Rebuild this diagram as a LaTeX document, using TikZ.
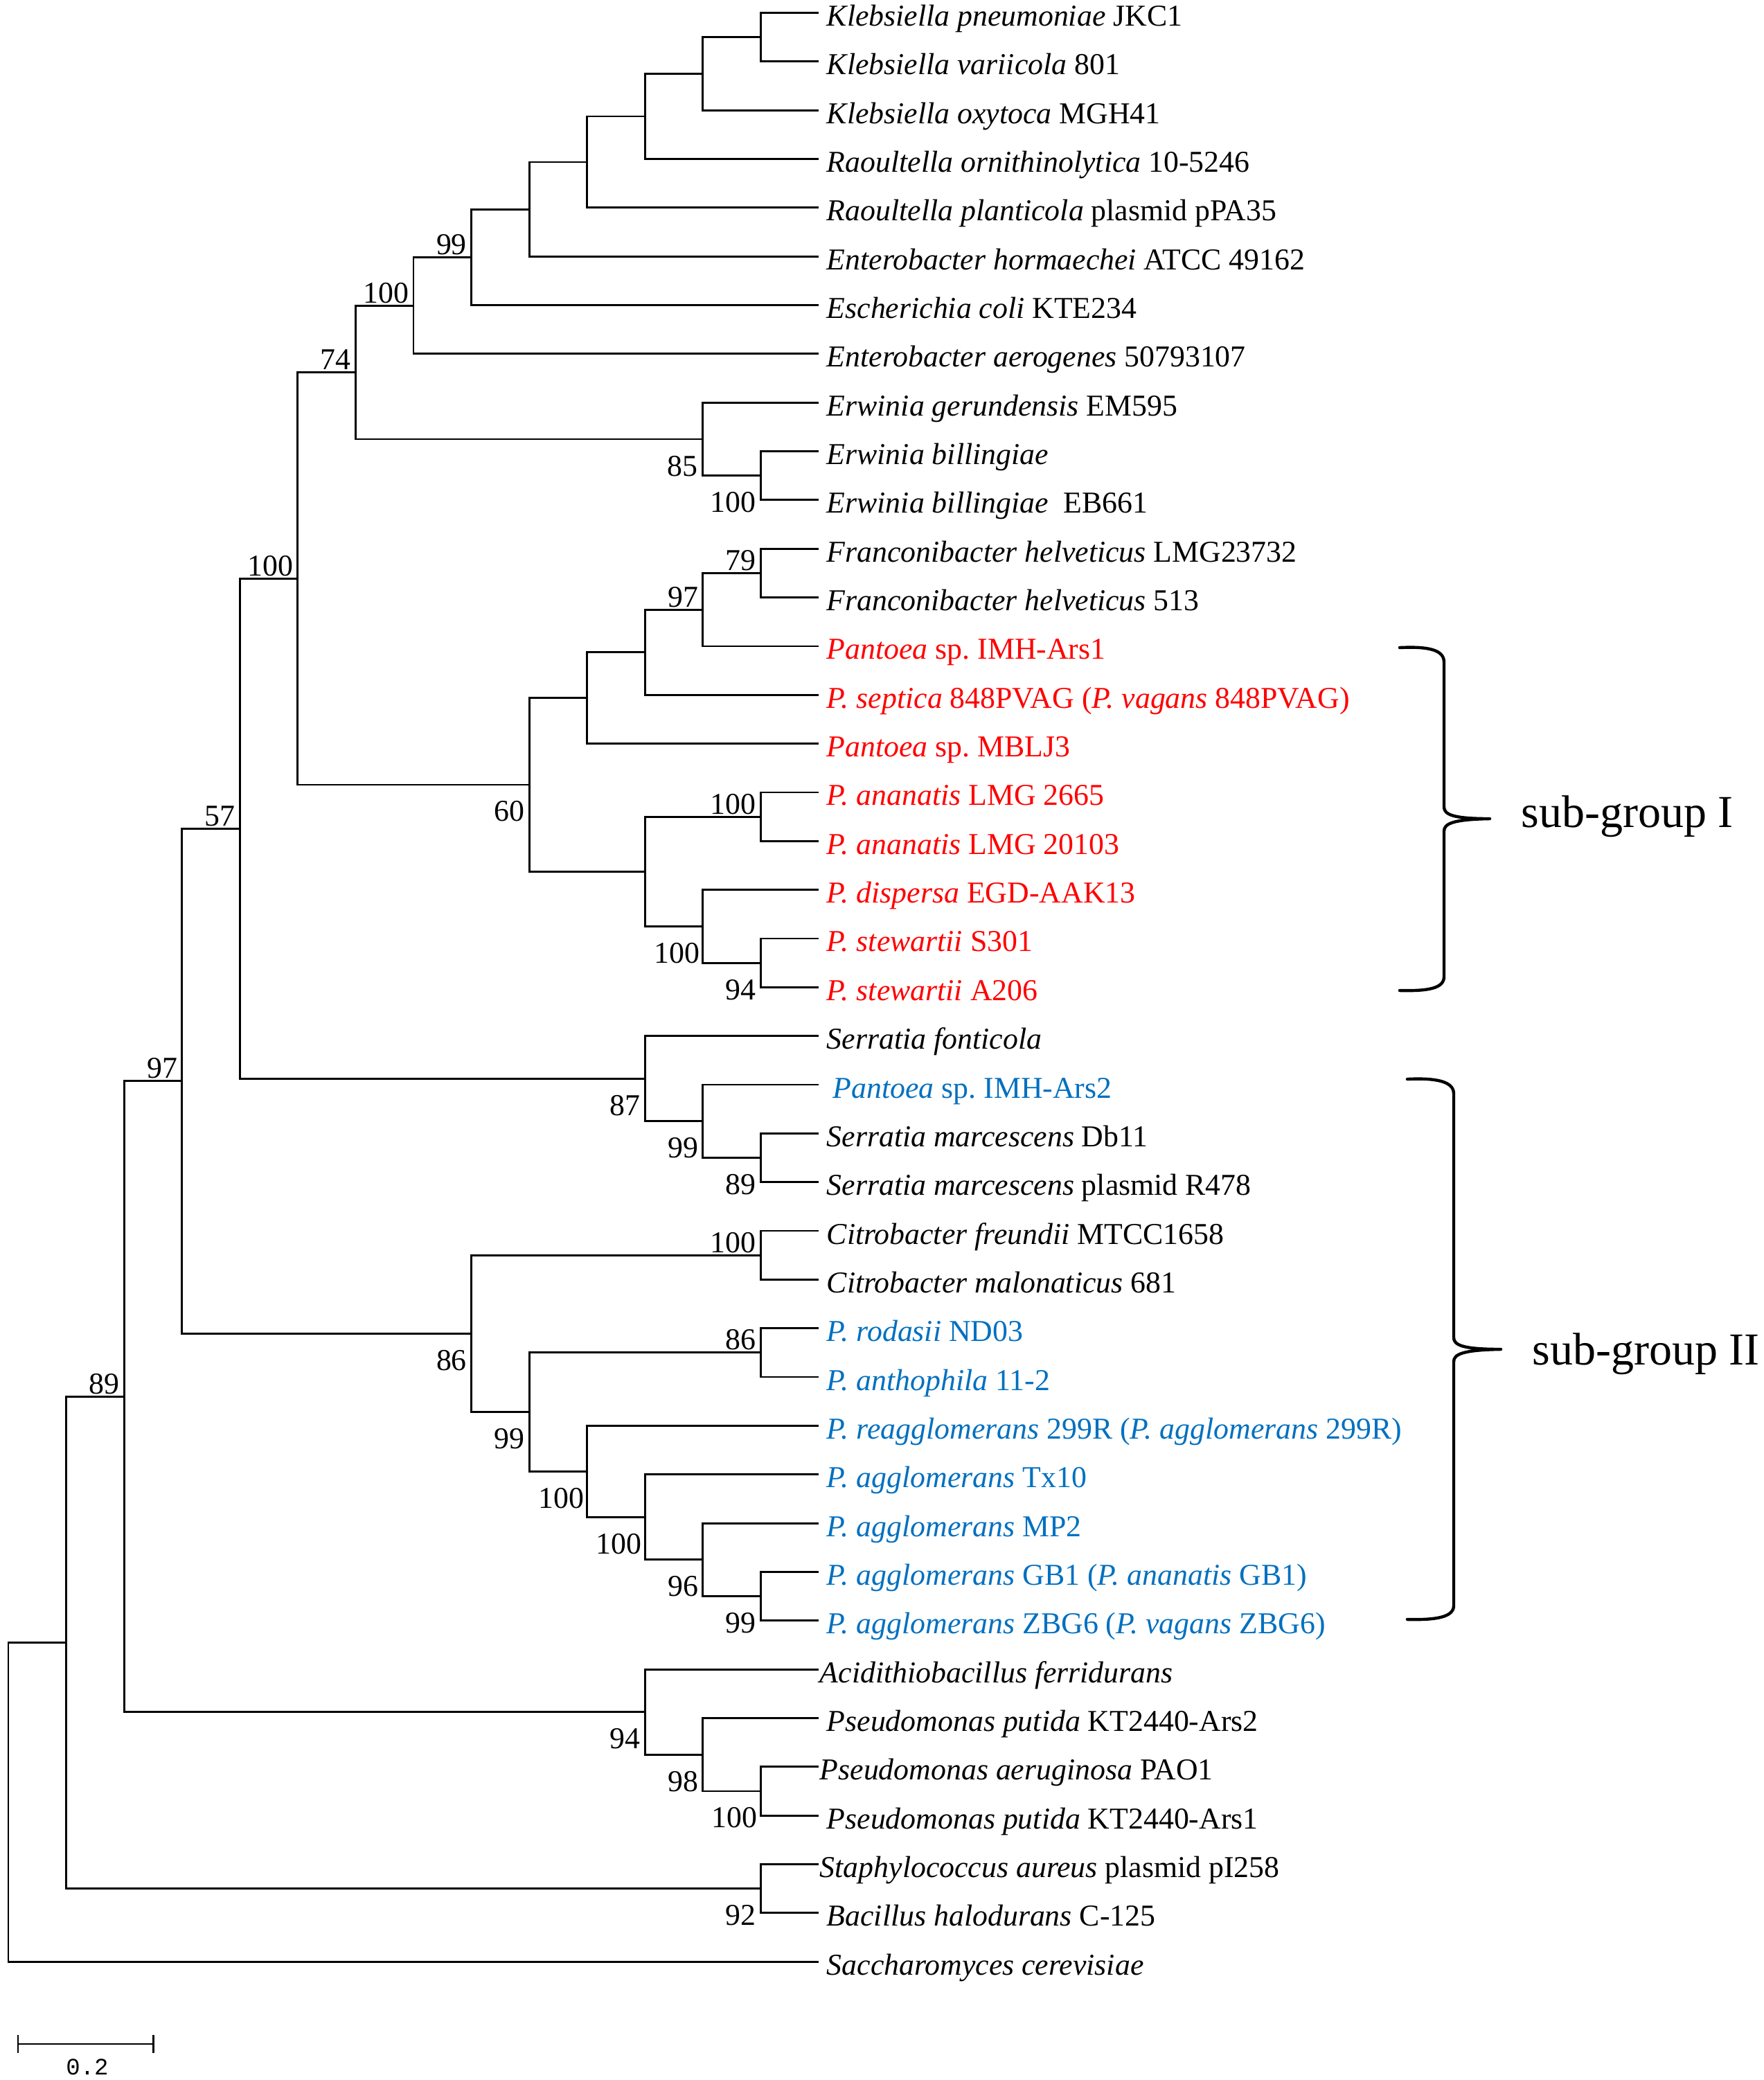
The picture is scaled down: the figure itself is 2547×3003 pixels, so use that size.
\documentclass[tikz,border=0pt]{standalone}
\usepackage{fontspec}
\setmainfont{Liberation Serif}
\newfontfamily\sbarfont{Liberation Mono}
\usetikzlibrary{calc}
\definecolor{pred}{RGB}{255,0,0}
\definecolor{pblue}{RGB}{0,112,192}
\newcommand\lfnt{\fontsize{10.95}{13}\selectfont}
\newcommand\sgfnt{\fontsize{16.5}{20}\selectfont}
\frenchspacing
\begin{document}
\begin{tikzpicture}[x=0.25pt,y=-0.25pt,
  br/.style={line width=0.72pt, line join=miter},
  leaf/.style={anchor=base west, inner sep=0pt, font=\lfnt},
  bs/.style={anchor=base east, inner sep=0pt, font=\lfnt},
  sglabel/.style={anchor=base west, inner sep=0pt, font=\sgfnt},
  bracestroke/.style={line width=1.1pt, line join=round, line cap=round}]
\useasboundingbox (0,0) rectangle (2547,3003);
\fill[white] (0,0) rectangle (2547,3003);
% leaf ends
\foreach \i in {0,...,40} \coordinate (l\i) at (1182,{18.5+70.34*\i});
% internal nodes
\coordinate (a1) at (1098.4,53.67);
\coordinate (a2) at (1014.8,106.43);
\coordinate (a3) at (931.3,167.97);
\coordinate (a4) at (847.7,233.92);
\coordinate (a5) at (764.1,302.06);
\coordinate (a6) at (680.6,371.3);
\coordinate (a7) at (597,441.09);
\coordinate (e2) at (1098.4,686.73);
\coordinate (e1) at (1014.8,633.98);
\coordinate (a8) at (513.4,537.53);
\coordinate (f1) at (1098.4,827.41);
\coordinate (f2) at (1014.8,880.17);
\coordinate (f3) at (931.3,941.71);
\coordinate (f4) at (847.7,1007.66);
\coordinate (g1) at (1098.4,1179.11);
\coordinate (g2) at (1098.4,1390.13);
\coordinate (g3) at (1014.8,1337.37);
\coordinate (g4) at (931.3,1258.24);
\coordinate (f5) at (764.1,1132.95);
\coordinate (b1) at (429.9,835.24);
\coordinate (s1) at (1098.4,1671.49);
\coordinate (s2) at (1014.8,1618.74);
\coordinate (s3) at (931.3,1557.19);
\coordinate (b2) at (346.3,1196.22);
\coordinate (c1) at (1098.4,1812.17);
\coordinate (p1) at (1098.4,1952.85);
\coordinate (p2) at (1098.4,2304.55);
\coordinate (p3) at (1014.8,2251.8);
\coordinate (p4) at (931.3,2190.25);
\coordinate (p5) at (847.7,2124.31);
\coordinate (p6) at (764.1,2038.58);
\coordinate (c2) at (680.6,1925.38);
\coordinate (b3) at (262.7,1560.8);
\coordinate (q1) at (1098.4,2585.91);
\coordinate (q2) at (1014.8,2533.16);
\coordinate (q3) at (931.3,2471.61);
\coordinate (b4) at (179.1,2016.2);
\coordinate (r1) at (1098.4,2726.59);
\coordinate (b5) at (95.6,2371.4);
\coordinate (root) at (12,2601.75);
% branches
\draw[br] (l0) -| (a1) |- (l1);
\draw[br] (a1) -| (a2) |- (l2);
\draw[br] (a2) -| (a3) |- (l3);
\draw[br] (a3) -| (a4) |- (l4);
\draw[br] (a4) -| (a5) |- (l5);
\draw[br] (a5) -| (a6) |- (l6);
\draw[br] (a6) -| (a7) |- (l7);
\draw[br] (l9) -| (e2) |- (l10);
\draw[br] (l8) -| (e1) |- (e2);
\draw[br] (a7) -| (a8) |- (e1);
\draw[br] (l11) -| (f1) |- (l12);
\draw[br] (f1) -| (f2) |- (l13);
\draw[br] (f2) -| (f3) |- (l14);
\draw[br] (f3) -| (f4) |- (l15);
\draw[br] (l16) -| (g1) |- (l17);
\draw[br] (l19) -| (g2) |- (l20);
\draw[br] (l18) -| (g3) |- (g2);
\draw[br] (g1) -| (g4) |- (g3);
\draw[br] (f4) -| (f5) |- (g4);
\draw[br] (a8) -| (b1) |- (f5);
\draw[br] (l23) -| (s1) |- (l24);
\draw[br] (l22) -| (s2) |- (s1);
\draw[br] (l21) -| (s3) |- (s2);
\draw[br] (b1) -| (b2) |- (s3);
\draw[br] (l25) -| (c1) |- (l26);
\draw[br] (l27) -| (p1) |- (l28);
\draw[br] (l32) -| (p2) |- (l33);
\draw[br] (l31) -| (p3) |- (p2);
\draw[br] (l30) -| (p4) |- (p3);
\draw[br] (l29) -| (p5) |- (p4);
\draw[br] (p1) -| (p6) |- (p5);
\draw[br] (c1) -| (c2) |- (p6);
\draw[br] (b2) -| (b3) |- (c2);
\draw[br] (l36) -| (q1) |- (l37);
\draw[br] (l35) -| (q2) |- (q1);
\draw[br] (l34) -| (q3) |- (q2);
\draw[br] (b3) -| (b4) |- (q3);
\draw[br] (l38) -| (r1) |- (l39);
\draw[br] (b4) -| (b5) |- (r1);
\draw[br] (b5) -| (root) |- (l40);
% bootstrap values (above)
\node[bs] (ba6) at ($(a6)+(-6,-4)$) {99};
\node[bs] (ba7) at ($(a7)+(-6,-4)$) {100};
\node[bs] (ba8) at ($(a8)+(-6,-4)$) {74};
\node[bs] (bb1) at ($(b1)+(-6,-4)$) {100};
\node[bs] (bf1) at ($(f1)+(-6,-4)$) {79};
\node[bs] (bf2) at ($(f2)+(-6,-4)$) {97};
\node[bs] (bb2) at ($(b2)+(-6,-4)$) {57};
\node[bs] (bg1) at ($(g1)+(-6,-4)$) {100};
\node[bs] (bb3) at ($(b3)+(-6,-4)$) {97};
\node[bs] (bc1) at ($(c1)+(-6,-4)$) {100};
\node[bs] (bp1) at ($(p1)+(-6,-4)$) {86};
\node[bs] (bb4) at ($(b4)+(-6,-4)$) {89};
% bootstrap values (below)
\node[bs] (be1) at ($(e1)+(-7,53)$) {85};
\node[bs] (be2) at ($(e2)+(-6,53)$) {100};
\node[bs] (bf5) at ($(f5)+(-6,53)$) {60};
\node[bs] (bg3) at ($(g3)+(-4,53)$) {100};
\node[bs] (bg2) at ($(g2)+(-6,53)$) {94};
\node[bs] (bs3) at ($(s3)+(-6,53)$) {87};
\node[bs] (bs2) at ($(s2)+(-6,53)$) {99};
\node[bs] (bs1) at ($(s1)+(-6,53)$) {89};
\node[bs] (bc2) at ($(c2)+(-6,53)$) {86};
\node[bs] (bp6) at ($(p6)+(-6,53)$) {99};
\node[bs] (bp5) at ($(p5)+(-4,53)$) {100};
\node[bs] (bp4) at ($(p4)+(-4,53)$) {100};
\node[bs] (bp3) at ($(p3)+(-6,53)$) {96};
\node[bs] (bp2) at ($(p2)+(-6,53)$) {99};
\node[bs] (bq3) at ($(q3)+(-6,53)$) {94};
\node[bs] (bq2) at ($(q2)+(-6,53)$) {98};
\node[bs] (bq1) at ($(q1)+(-4,53)$) {100};
\node[bs] (br1) at ($(r1)+(-6,53)$) {92};
% leaf names
\node[leaf] (t0) at ($(l0)+(11,19)$) {\textit{Klebsiella pneumoniae} JKC1};
\node[leaf] (t1) at ($(l1)+(11,19)$) {\textit{Klebsiella variicola} 801};
\node[leaf] (t2) at ($(l2)+(11,19)$) {\textit{Klebsiella oxytoca} MGH41};
\node[leaf] (t3) at ($(l3)+(11,19)$) {\textit{Raoultella ornithinolytica} 10-5246};
\node[leaf] (t4) at ($(l4)+(11,19)$) {\textit{Raoultella planticola} plasmid pPA35};
\node[leaf] (t5) at ($(l5)+(11,19)$) {\textit{Enterobacter hormaechei} ATCC 49162};
\node[leaf] (t6) at ($(l6)+(11,19)$) {\textit{Escherichia coli} KTE234};
\node[leaf] (t7) at ($(l7)+(11,19)$) {\textit{Enterobacter aerogenes} 50793107};
\node[leaf] (t8) at ($(l8)+(11,19)$) {\textit{Erwinia gerundensis} EM595};
\node[leaf] (t9) at ($(l9)+(11,19)$) {\textit{Erwinia billingiae}};
\node[leaf] (t10) at ($(l10)+(11,19)$) {\textit{Erwinia billingiae}\ \ EB661};
\node[leaf] (t11) at ($(l11)+(11,19)$) {\textit{Franconibacter helveticus} LMG23732};
\node[leaf] (t12) at ($(l12)+(11,19)$) {\textit{Franconibacter helveticus} 513};
\node[leaf,text=pred] (t13) at ($(l13)+(11,19)$) {\textit{Pantoea} sp. IMH-Ars1};
\node[leaf,text=pred] (t14) at ($(l14)+(11,19)$) {\textit{P. septica} 848PVAG (\textit{P. vagans} 848PVAG)};
\node[leaf,text=pred] (t15) at ($(l15)+(11,19)$) {\textit{Pantoea} sp. MBLJ3};
\node[leaf,text=pred] (t16) at ($(l16)+(11,19)$) {\textit{P. ananatis} LMG 2665};
\node[leaf,text=pred] (t17) at ($(l17)+(11,19)$) {\textit{P. ananatis} LMG 20103};
\node[leaf,text=pred] (t18) at ($(l18)+(11,19)$) {\textit{P. dispersa} EGD-AAK13};
\node[leaf,text=pred] (t19) at ($(l19)+(11,19)$) {\textit{P. stewartii} S301};
\node[leaf,text=pred] (t20) at ($(l20)+(11,19)$) {\textit{P. stewartii} A206};
\node[leaf] (t21) at ($(l21)+(11,19)$) {\textit{Serratia fonticola}};
\node[leaf,text=pblue] (t22) at ($(l22)+(20,19)$) {\textit{Pantoea} sp. IMH-Ars2};
\node[leaf] (t23) at ($(l23)+(11,19)$) {\textit{Serratia marcescens} Db11};
\node[leaf] (t24) at ($(l24)+(11,19)$) {\textit{Serratia marcescens} plasmid R478};
\node[leaf] (t25) at ($(l25)+(11,19)$) {\textit{Citrobacter freundii} MTCC1658};
\node[leaf] (t26) at ($(l26)+(11,19)$) {\textit{Citrobacter malonaticus} 681};
\node[leaf,text=pblue] (t27) at ($(l27)+(11,19)$) {\textit{P. rodasii} ND03};
\node[leaf,text=pblue] (t28) at ($(l28)+(11,19)$) {\textit{P. anthophila} 11-2};
\node[leaf,text=pblue] (t29) at ($(l29)+(11,19)$) {\textit{P. reagglomerans} 299R (\textit{P. agglomerans} 299R)};
\node[leaf,text=pblue] (t30) at ($(l30)+(11,19)$) {\textit{P. agglomerans} Tx10};
\node[leaf,text=pblue] (t31) at ($(l31)+(11,19)$) {\textit{P. agglomerans} MP2};
\node[leaf,text=pblue] (t32) at ($(l32)+(11,19)$) {\textit{P. agglomerans} GB1 (\textit{P. ananatis} GB1)};
\node[leaf,text=pblue] (t33) at ($(l33)+(11,19)$) {\textit{P. agglomerans} ZBG6 (\textit{P. vagans} ZBG6)};
\node[leaf] (t34) at ($(l34)+(1,19)$) {\textit{Acidithiobacillus ferridurans}};
\node[leaf] (t35) at ($(l35)+(11,19)$) {\textit{Pseudomonas putida} KT2440-Ars2};
\node[leaf] (t36) at ($(l36)+(1,19)$) {\textit{Pseudomonas aeruginosa} PAO1};
\node[leaf] (t37) at ($(l37)+(11,19)$) {\textit{Pseudomonas putida} KT2440-Ars1};
\node[leaf] (t38) at ($(l38)+(1,19)$) {\textit{Staphylococcus aureus} plasmid pI258};
\node[leaf] (t39) at ($(l39)+(11,19)$) {\textit{Bacillus halodurans} C-125};
\node[leaf] (t40) at ($(l40)+(11,19)$) {\textit{Saccharomyces cerevisiae}};
% braces
\coordinate (tipI) at (2151,1182);
\coordinate (tipII) at (2167,1948);
\draw[bracestroke] (2021,935) .. controls (2062,933) and (2085,938) .. (2085,956)
  -- (2085,1165) .. controls (2085,1176) and (2098,1182) .. (tipI)
  .. controls (2098,1183) and (2085,1189) .. (2085,1200)
  -- (2085,1410) .. controls (2085,1427) and (2062,1431) .. (2021,1430);
\draw[bracestroke] (2032,1558) .. controls (2073,1556) and (2099,1561) .. (2099,1579)
  -- (2099,1931) .. controls (2099,1942) and (2112,1948) .. (tipII)
  .. controls (2112,1949) and (2099,1955) .. (2099,1966)
  -- (2099,2318) .. controls (2099,2335) and (2073,2339) .. (2032,2338);
\node[sglabel] (sgI) at (2196,1194) {sub-group I};
\node[sglabel] (sgII) at (2212,1970) {sub-group II};
% scale bar
\coordinate (sb1) at (26,2951);
\coordinate (sb2) at (221.6,2951);
\draw[br] (sb1) -- (sb2);
\draw[br] ($(sb1)+(0,-13)$) -- ($(sb1)+(0,13)$);
\draw[br] ($(sb2)+(0,-13)$) -- ($(sb2)+(0,13)$);
\node[anchor=base, inner sep=0pt, font=\sbarfont\fontsize{8.5}{10}\selectfont] (sbl) at (126,2995) {0.2};
\end{tikzpicture}
\end{document}
